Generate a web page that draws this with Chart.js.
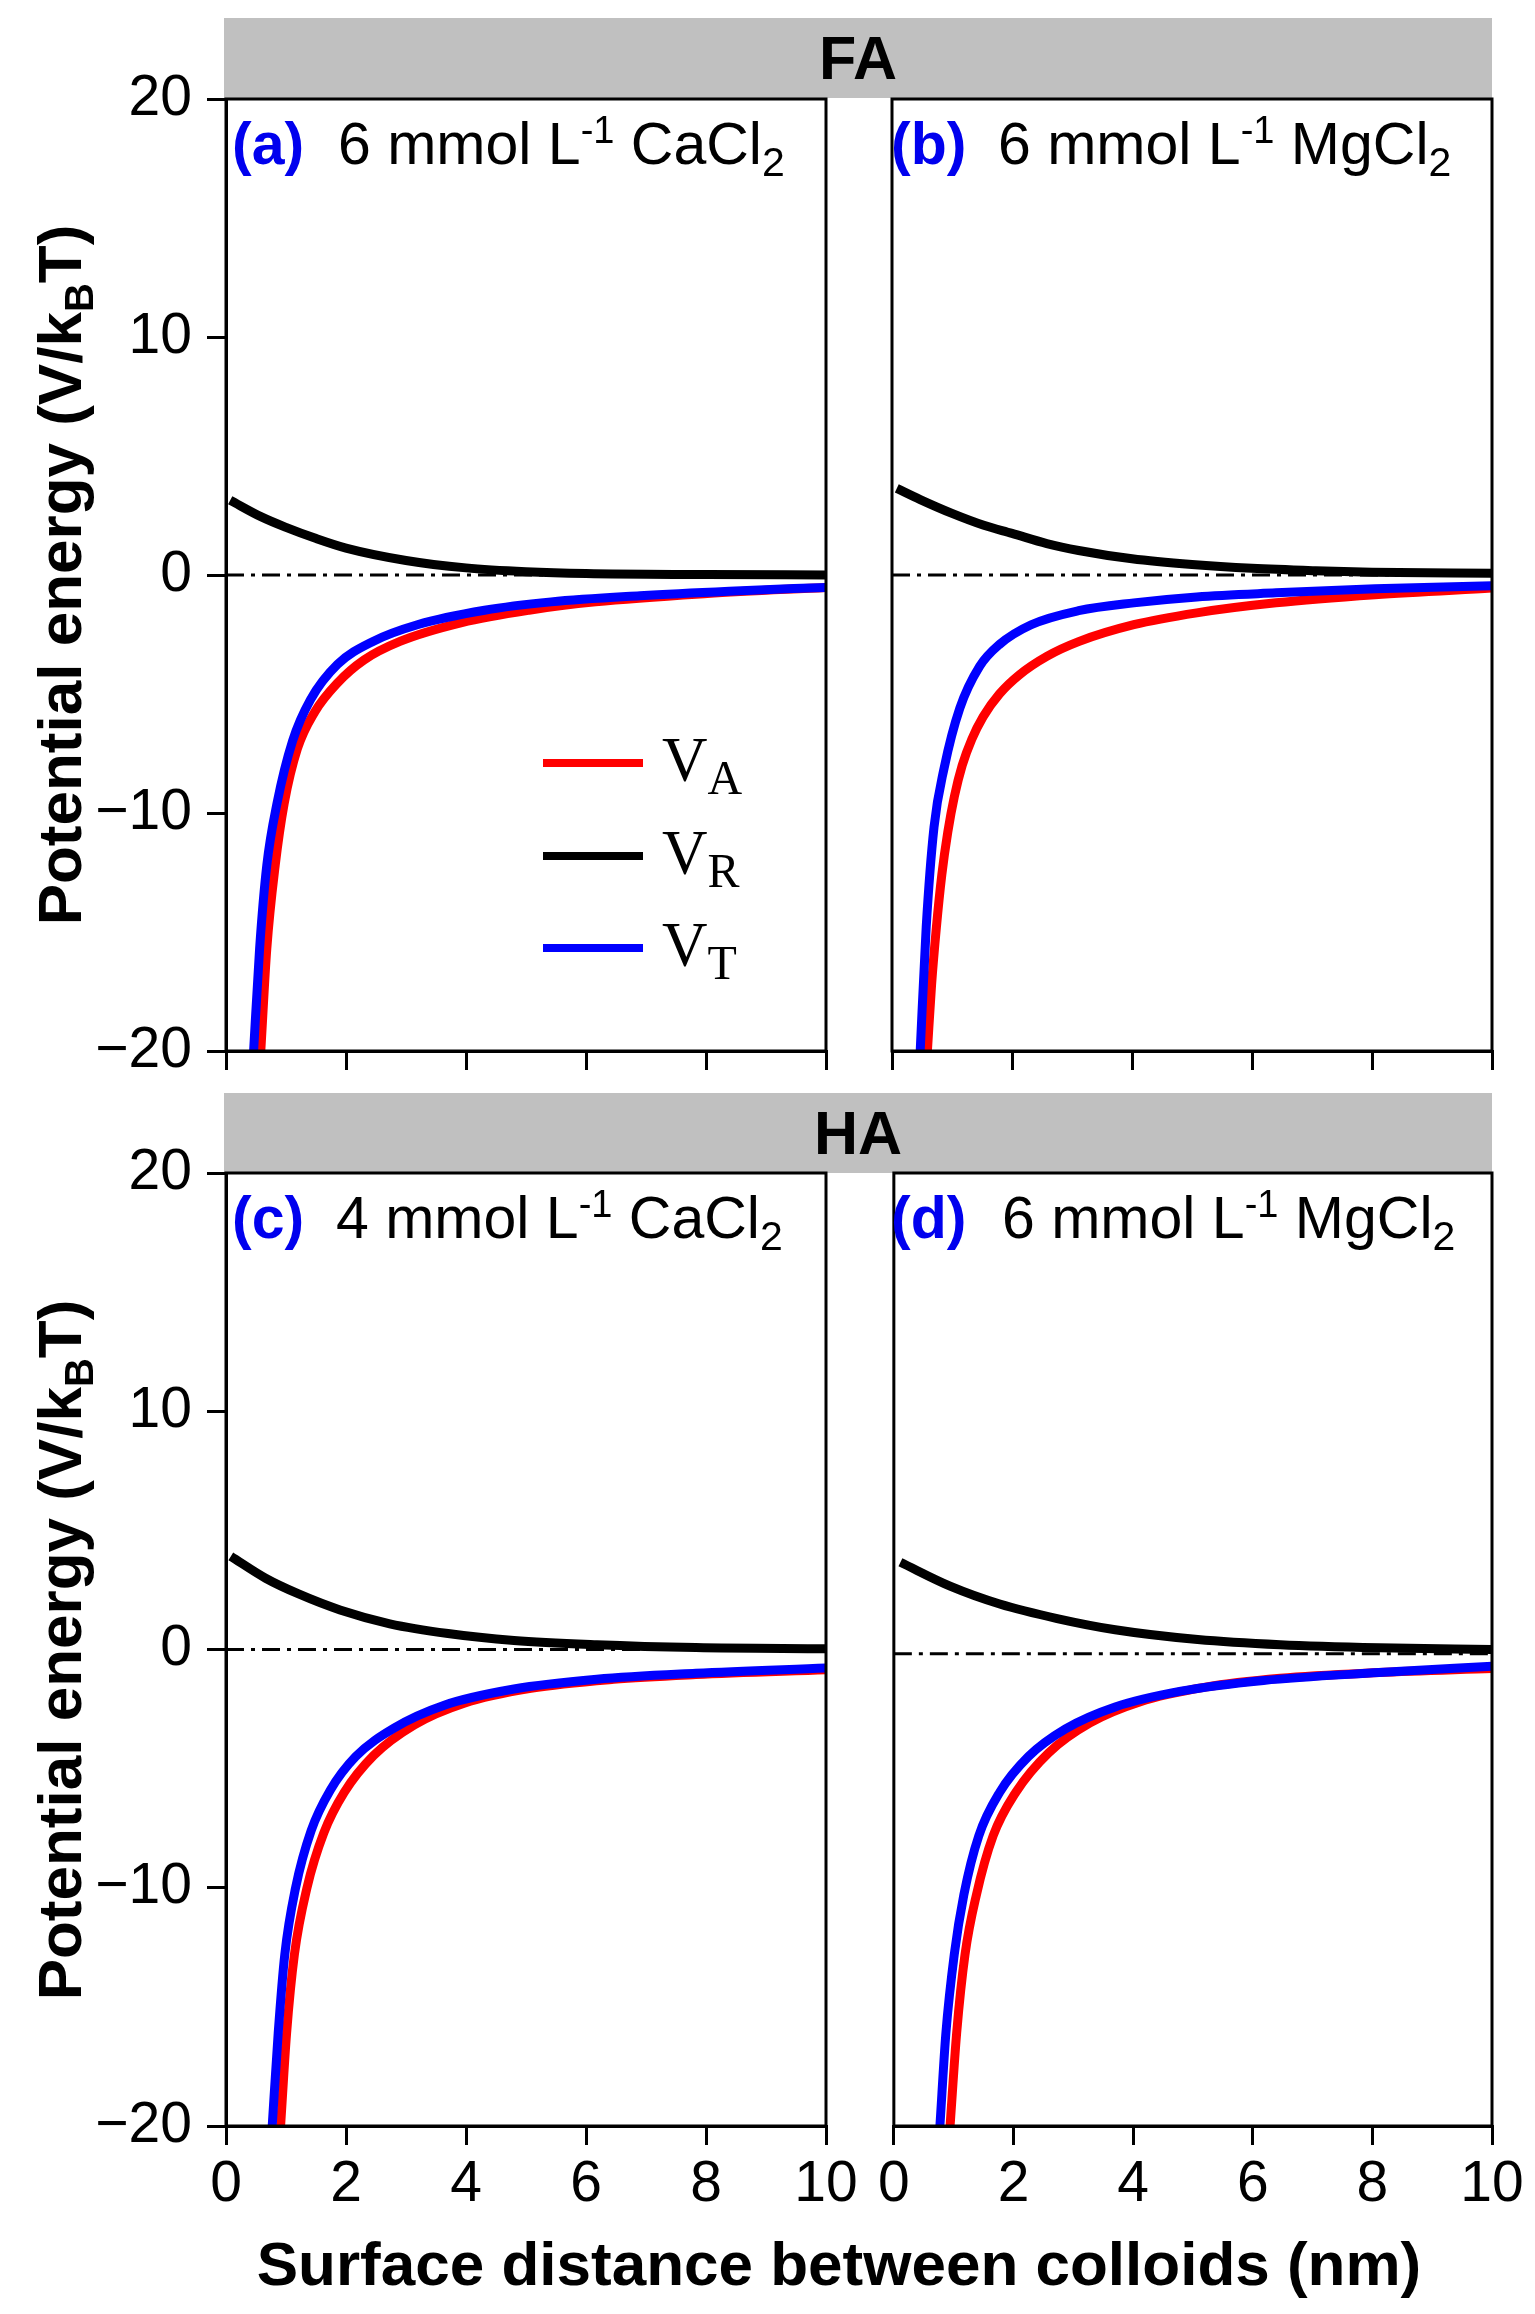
<!DOCTYPE html>
<html>
<head>
<meta charset="utf-8">
<script src="https://cdn.jsdelivr.net/npm/chart.js@4.4.1/dist/chart.umd.min.js"></script>
<style>
  body { margin: 0; background: #fff; }
  #page { position: relative; width: 1535px; height: 2314px; background: #fff; overflow: hidden;
          font-family: "Liberation Sans", Arial, sans-serif; color: #000; }
  canvas { position: absolute; }
  .strip { position: absolute; left: 224px; width: 1268px; height: 80px; background: #c0c0c0;
           text-align: center; font-weight: bold; font-size: 61px; line-height: 80px; }
  .lbl { position: absolute; white-space: nowrap; line-height: 1; font-size: 59px; }
  .tag { color: #0000ee; font-weight: bold; }
  .sup { position: relative; top: -21px; font-size: 38px; }
  .sub { position: relative; top: 12px; font-size: 41px; }
  .ytitle { position: absolute; width: 900px; height: 80px; line-height: 80px; text-align: center;
            font-weight: bold; font-size: 62px; transform: rotate(-90deg); white-space: nowrap; }
  .ytitle .sb { position: relative; top: 12px; font-size: 40px; }
  .xtitle { position: absolute; left: 239px; width: 1200px; text-align: center; top: 2233px;
            font-weight: bold; font-size: 62px; line-height: 1; white-space: nowrap; }
  .swatch { position: absolute; left: 543px; width: 100px; height: 8px; }
  .leg { position: absolute; left: 662px; font-family: "Liberation Serif", "Times New Roman", serif;
         font-size: 63px; line-height: 1; white-space: nowrap; }
  .leg span { position: relative; top: 13px; font-size: 48px; }
</style>
</head>
<body>
<div id="page">
  <div class="strip" style="top:18px">FA</div>
  <div class="strip" style="top:1093px">HA</div>

  <canvas id="chartA" width="852" height="1056" style="left:26px; top:47px"></canvas>
  <canvas id="chartB" width="660" height="1056" style="left:872px; top:47px"></canvas>
  <canvas id="chartC" width="852" height="1115" style="left:26px; top:1121px"></canvas>
  <canvas id="chartD" width="660" height="1115" style="left:872px; top:1121px"></canvas>

  <div class="lbl tag" style="left:232px; top:115px">(a)</div>
  <div class="lbl" style="left:338px; top:115px">6 mmol L<span class="sup">-1</span> CaCl<span class="sub">2</span></div>
  <div class="lbl tag" style="left:891px; top:115px">(b)</div>
  <div class="lbl" style="left:998px; top:115px">6 mmol L<span class="sup">-1</span> MgCl<span class="sub">2</span></div>
  <div class="lbl tag" style="left:232px; top:1189px">(c)</div>
  <div class="lbl" style="left:336px; top:1189px">4 mmol L<span class="sup">-1</span> CaCl<span class="sub">2</span></div>
  <div class="lbl tag" style="left:891px; top:1189px">(d)</div>
  <div class="lbl" style="left:1002px; top:1189px">6 mmol L<span class="sup">-1</span> MgCl<span class="sub">2</span></div>

  <div class="swatch" style="top:759px; background:#ff0000"></div>
  <div class="leg" style="top:729px">V<span>A</span></div>
  <div class="swatch" style="top:852px; background:#000"></div>
  <div class="leg" style="top:822px">V<span>R</span></div>
  <div class="swatch" style="top:944px; background:#0000ff"></div>
  <div class="leg" style="top:914px">V<span>T</span></div>

  <div class="ytitle" style="left:-390px; top:535px">Potential energy (V/k<span class="sb">B</span>T)</div>
  <div class="ytitle" style="left:-390px; top:1610px">Potential energy (V/k<span class="sb">B</span>T)</div>
  <div class="xtitle">Surface distance between colloids (nm)</div>
</div>

<script>
// axis ticks
const xTickValues = [0, 2, 4, 6, 8, 10];
const yTickValues = [-20, -10, 0, 10, 20];

// curves, [distance nm, V/kBT]
// (a) FA, 6 mmol/L CaCl2
const aVA = [[0.58,-20],[0.68,-15.7],[0.82,-12.2],[0.97,-9.6],[1.19,-7.3],[1.48,-5.75],[1.86,-4.53],[2.3,-3.57],[2.9,-2.79],[3.93,-2.0],[5.05,-1.48],[6.16,-1.13],[8.02,-0.78],[10,-0.52]];
const aVR = [[0.07,3.14],[0.59,2.44],[1.0,2.0],[1.48,1.55],[2.0,1.13],[3.0,0.61],[4.0,0.30],[5.0,0.14],[6.0,0.06],[8,0.02],[10,0.0]];
const aVT = [[0.46,-20],[0.56,-15.7],[0.68,-12.2],[0.85,-9.6],[1.11,-6.97],[1.41,-5.23],[1.86,-3.75],[2.45,-2.79],[3.19,-2.09],[4.31,-1.48],[5.42,-1.13],[6.9,-0.87],[8.39,-0.68],[10,-0.52]];
// (b) FA, 6 mmol/L MgCl2
const bVA = [[0.59,-20],[0.66,-17.2],[0.74,-14.8],[0.83,-12.6],[0.93,-10.8],[1.04,-9.3],[1.17,-8.0],[1.33,-6.9],[1.52,-5.95],[1.79,-5.0],[2.12,-4.2],[2.58,-3.42],[3.11,-2.8],[4.03,-2.09],[5.08,-1.59],[6.4,-1.17],[8.05,-0.83],[10,-0.55]];
const bVR = [[0.08,3.64],[0.47,3.17],[1.0,2.59],[1.53,2.09],[2.0,1.75],[2.58,1.32],[3.11,1.03],[4.0,0.68],[5.0,0.44],[6.0,0.28],[7.06,0.18],[8.0,0.12],[10,0.07]];
const bVT = [[0.47,-20],[0.57,-14.8],[0.7,-10.6],[0.87,-8.1],[1.13,-5.6],[1.46,-3.84],[1.79,-2.92],[2.32,-2.09],[3.11,-1.5],[4.03,-1.17],[5.08,-0.92],[6.4,-0.75],[8.05,-0.58],[10,-0.45]];
// (c) HA, 4 mmol/L CaCl2
const cVA = [[0.91,-20],[1.01,-16.1],[1.14,-12.8],[1.35,-10.0],[1.63,-7.7],[1.97,-6.0],[2.46,-4.45],[3.14,-3.16],[3.97,-2.25],[5.08,-1.63],[6.46,-1.25],[7.83,-1.05],[10,-0.85]];
const cVR = [[0.08,3.91],[0.66,2.99],[1.21,2.33],[1.9,1.66],[2.73,1.08],[3.7,0.67],[4.8,0.38],[6.18,0.2],[7.83,0.08],[10,0.03]];
const cVT = [[0.77,-20],[0.87,-16.1],[0.98,-12.8],[1.16,-10.0],[1.42,-7.6],[1.74,-5.9],[2.16,-4.5],[2.8,-3.3],[3.65,-2.33],[4.8,-1.66],[6.18,-1.25],[7.83,-1.0],[10,-0.78]];
// (d) HA, 6 mmol/L MgCl2
const dVA = [[0.94,-20],[1.05,-16.1],[1.19,-12.8],[1.38,-10.3],[1.66,-7.82],[2.04,-5.99],[2.59,-4.33],[3.28,-3.08],[4.11,-2.2],[5.21,-1.58],[6.46,-1.21],[8.11,-0.97],[10,-0.8]];
const dVR = [[0.11,3.66],[0.94,2.66],[1.77,1.91],[2.73,1.3],[3.7,0.83],[5.08,0.42],[6.46,0.2],[8.11,0.07],[10,0.0]];
const dVT = [[0.77,-20],[0.87,-16.1],[1.01,-12.8],[1.17,-10.3],[1.42,-7.82],[1.77,-5.99],[2.25,-4.49],[2.87,-3.33],[3.7,-2.41],[4.8,-1.75],[6.18,-1.3],[8.11,-0.97],[10,-0.7]];

// reference (dash-dot) line level per panel
const zeroLevels = { A: 0, B: 0, C: 0, D: -0.18 };

const FONT = '"Liberation Sans", Arial, sans-serif';
const PAD = 52;   // room above/below the plot for the end tick labels

// box round the plot area
const framePlugin = {
  id: 'frame',
  afterDatasetsDraw(chart) {
    const { ctx, chartArea: a } = chart;
    ctx.save();
    ctx.strokeStyle = '#000';
    ctx.lineWidth = 3;
    ctx.strokeRect(a.left, a.top, a.right - a.left, a.bottom - a.top);
    ctx.restore();
  }
};

function toPoints(pairs) {
  return pairs.map(p => ({ x: p[0], y: p[1] }));
}

function curve(pairs, color, order) {
  return {
    data: toPoints(pairs),
    borderColor: color,
    borderWidth: 9,
    pointRadius: 0,
    cubicInterpolationMode: 'monotone',
    borderCapStyle: 'butt',
    order: order
  };
}

function makePanel(id, va, vr, vt, zero, showY, showX) {
  new Chart(document.getElementById(id), {
    type: 'line',
    data: {
      datasets: [
        curve(vt, '#0000ff', 1),
        curve(vr, '#000000', 2),
        curve(va, '#ff0000', 3),
        {
          data: [{ x: 0, y: zero }, { x: 10, y: zero }],
          borderColor: '#000',
          borderWidth: 3,
          borderDash: [18, 7, 4, 7],
          pointRadius: 0,
          order: 4
        }
      ]
    },
    options: {
      responsive: false,
      animation: false,
      devicePixelRatio: 1,
      events: [],
      layout: { padding: { top: PAD, bottom: 0, left: showY ? 0 : 20, right: showY ? 52 : 40 } },
      plugins: { legend: { display: false }, tooltip: { enabled: false } },
      scales: {
        x: {
          type: 'linear', min: 0, max: 10,
          afterBuildTicks: s => { s.ticks = xTickValues.map(v => ({ value: v })); },
          afterFit: s => { s.height = showX ? 110 : PAD; },
          ticks: { display: showX, color: '#000', font: { family: FONT, size: 57 }, padding: 6, maxRotation: 0, autoSkip: false },
          grid: { drawOnChartArea: false, tickLength: 19, lineWidth: 3, color: '#000' },
          border: { color: '#000', width: 3 }
        },
        y: {
          type: 'linear', min: -20, max: 20, display: showY,
          afterBuildTicks: s => { s.ticks = yTickValues.map(v => ({ value: v })); },
          afterFit: s => { s.width = showY ? 200 : 0; },
          ticks: {
            color: '#000', font: { family: FONT, size: 57 }, padding: 15,
            callback: v => (v < 0 ? '\u2212' + Math.abs(v) : String(v))
          },
          grid: { drawOnChartArea: false, tickLength: 19, lineWidth: 3, color: '#000' },
          border: { color: '#000', width: 3 }
        }
      }
    },
    plugins: [framePlugin]
  });
}

makePanel('chartA', aVA, aVR, aVT, zeroLevels.A, true, false);
makePanel('chartB', bVA, bVR, bVT, zeroLevels.B, false, false);
makePanel('chartC', cVA, cVR, cVT, zeroLevels.C, true, true);
makePanel('chartD', dVA, dVR, dVT, zeroLevels.D, false, true);
</script>
</body>
</html>
